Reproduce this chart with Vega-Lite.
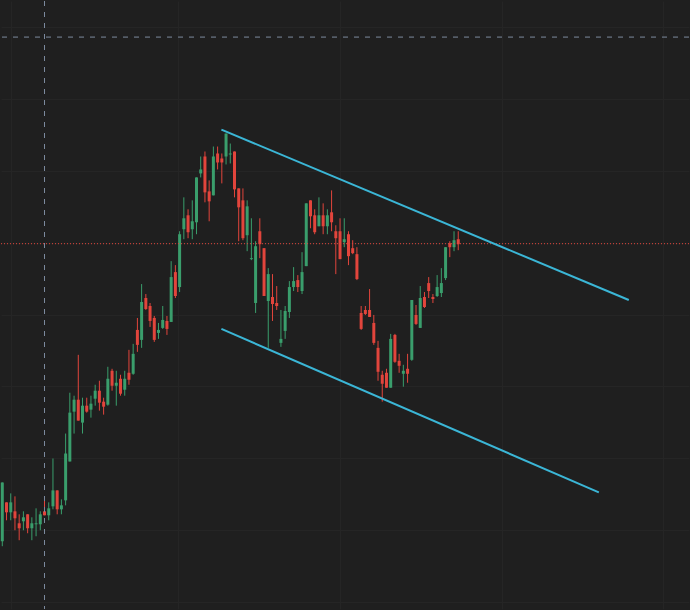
{
  "$schema": "https://vega.github.io/schema/vega-lite/v6.json",
  "width": 690,
  "height": 610,
  "padding": 0,
  "autosize": {"type": "fit", "contains": "padding"},
  "background": "#1f1f1f",
  "config": {
    "view": {"stroke": null},
    "axis": {"labels": false, "ticks": false, "domain": false, "title": null, "grid": true, "gridColor": "#252525", "gridWidth": 1}
  },
  "datasets": {
    "candles": [
      {"i":0,"o":68,"h":127,"l":63,"c":127},
      {"i":1,"o":107,"h":107,"l":89,"c":97},
      {"i":2,"o":97,"h":116,"l":89,"c":107},
      {"i":3,"o":98,"h":113,"l":79,"c":91},
      {"i":4,"o":86,"h":95,"l":69,"c":81},
      {"i":5,"o":88,"h":98,"l":79,"c":92},
      {"i":6,"o":95,"h":95,"l":76,"c":81},
      {"i":7,"o":81,"h":92,"l":69,"c":86},
      {"i":8,"o":85,"h":101,"l":73,"c":86},
      {"i":9,"o":85,"h":98,"l":79,"c":95},
      {"i":10,"o":98,"h":110,"l":94,"c":94},
      {"i":11,"o":94,"h":107,"l":89,"c":101},
      {"i":12,"o":103,"h":151,"l":100,"c":119},
      {"i":13,"o":119,"h":119,"l":95,"c":100},
      {"i":14,"o":100,"h":110,"l":95,"c":104},
      {"i":15,"o":109,"h":176,"l":104,"c":156},
      {"i":16,"o":148,"h":217,"l":148,"c":197},
      {"i":17,"o":198,"h":214,"l":176,"c":210},
      {"i":18,"o":210,"h":255,"l":189,"c":189},
      {"i":19,"o":187,"h":212,"l":176,"c":204},
      {"i":20,"o":204,"h":212,"l":197,"c":198},
      {"i":21,"o":200,"h":214,"l":192,"c":206},
      {"i":22,"o":211,"h":225,"l":204,"c":219},
      {"i":23,"o":219,"h":229,"l":199,"c":207},
      {"i":24,"o":208,"h":212,"l":195,"c":203},
      {"i":25,"o":205,"h":243,"l":204,"c":231},
      {"i":26,"o":239,"h":241,"l":219,"c":224},
      {"i":27,"o":224,"h":239,"l":204,"c":227},
      {"i":28,"o":231,"h":235,"l":214,"c":216},
      {"i":29,"o":220,"h":239,"l":214,"c":231},
      {"i":30,"o":237,"h":260,"l":225,"c":230},
      {"i":31,"o":236,"h":266,"l":235,"c":256},
      {"i":32,"o":280,"h":292,"l":258,"c":265},
      {"i":33,"o":270,"h":326,"l":262,"c":308},
      {"i":34,"o":312,"h":316,"l":300,"c":301},
      {"i":35,"o":304,"h":307,"l":283,"c":289},
      {"i":36,"o":292,"h":294,"l":268,"c":270},
      {"i":37,"o":277,"h":287,"l":271,"c":280},
      {"i":38,"o":282,"h":304,"l":281,"c":290},
      {"i":39,"o":289,"h":294,"l":275,"c":281},
      {"i":40,"o":288,"h":349,"l":288,"c":333},
      {"i":41,"o":338,"h":345,"l":312,"c":314},
      {"i":42,"o":323,"h":379,"l":318,"c":376},
      {"i":43,"o":381,"h":413,"l":371,"c":392},
      {"i":44,"o":395,"h":401,"l":372,"c":378},
      {"i":45,"o":381,"h":410,"l":371,"c":389},
      {"i":46,"o":388,"h":433,"l":376,"c":433},
      {"i":47,"o":437,"h":454,"l":433,"c":441},
      {"i":48,"o":454,"h":459,"l":408,"c":418},
      {"i":49,"o":419,"h":430,"l":389,"c":409},
      {"i":50,"o":415,"h":464,"l":415,"c":454},
      {"i":51,"o":457,"h":464,"l":441,"c":448},
      {"i":52,"o":452,"h":457,"l":427,"c":448},
      {"i":53,"o":454,"h":477,"l":446,"c":477},
      {"i":54,"o":456,"h":467,"l":447,"c":457},
      {"i":55,"o":459,"h":459,"l":413,"c":421},
      {"i":56,"o":422,"h":422,"l":369,"c":403},
      {"i":57,"o":410,"h":422,"l":370,"c":372},
      {"i":58,"o":375,"h":410,"l":359,"c":404},
      {"i":59,"o":351,"h":392,"l":350,"c":352},
      {"i":60,"o":307,"h":369,"l":297,"c":364},
      {"i":61,"o":379,"h":392,"l":352,"c":366},
      {"i":62,"o":362,"h":362,"l":314,"c":314},
      {"i":63,"o":309,"h":342,"l":262,"c":336},
      {"i":64,"o":313,"h":336,"l":289,"c":306},
      {"i":65,"o":307,"h":324,"l":300,"c":304},
      {"i":66,"o":267,"h":300,"l":263,"c":271},
      {"i":67,"o":279,"h":304,"l":271,"c":299},
      {"i":68,"o":298,"h":329,"l":292,"c":323},
      {"i":69,"o":323,"h":343,"l":319,"c":329},
      {"i":70,"o":330,"h":335,"l":318,"c":323},
      {"i":71,"o":319,"h":358,"l":316,"c":338},
      {"i":72,"o":344,"h":407,"l":344,"c":407},
      {"i":73,"o":410,"h":410,"l":382,"c":394},
      {"i":74,"o":395,"h":401,"l":376,"c":378},
      {"i":75,"o":384,"h":413,"l":384,"c":395},
      {"i":76,"o":395,"h":407,"l":376,"c":384},
      {"i":77,"o":384,"h":401,"l":376,"c":395},
      {"i":78,"o":398,"h":420,"l":379,"c":388},
      {"i":79,"o":379,"h":385,"l":336,"c":372},
      {"i":80,"o":379,"h":392,"l":351,"c":351},
      {"i":81,"o":368,"h":392,"l":363,"c":371},
      {"i":82,"o":376,"h":379,"l":345,"c":354},
      {"i":83,"o":362,"h":370,"l":356,"c":357},
      {"i":84,"o":356,"h":363,"l":330,"c":331},
      {"i":85,"o":297,"h":304,"l":280,"c":281},
      {"i":86,"o":300,"h":304,"l":295,"c":296},
      {"i":87,"o":300,"h":321,"l":293,"c":293},
      {"i":88,"o":287,"h":295,"l":265,"c":267},
      {"i":89,"o":262,"h":269,"l":229,"c":238},
      {"i":90,"o":235,"h":239,"l":208,"c":226},
      {"i":91,"o":237,"h":241,"l":222,"c":222},
      {"i":92,"o":222,"h":276,"l":222,"c":271},
      {"i":93,"o":275,"h":276,"l":247,"c":248},
      {"i":94,"o":249,"h":256,"l":237,"c":244},
      {"i":95,"o":236,"h":245,"l":223,"c":239},
      {"i":96,"o":241,"h":256,"l":227,"c":236},
      {"i":97,"o":250,"h":310,"l":249,"c":310},
      {"i":98,"o":295,"h":305,"l":285,"c":286},
      {"i":99,"o":282,"h":324,"l":282,"c":312},
      {"i":100,"o":313,"h":318,"l":302,"c":303},
      {"i":101,"o":327,"h":333,"l":312,"c":319},
      {"i":102,"o":313,"h":316,"l":307,"c":311},
      {"i":103,"o":314,"h":335,"l":313,"c":323},
      {"i":104,"o":317,"h":342,"l":313,"c":327},
      {"i":105,"o":332,"h":363,"l":330,"c":363},
      {"i":106,"o":367,"h":369,"l":353,"c":363},
      {"i":107,"o":363,"h":379,"l":359,"c":370},
      {"i":108,"o":371,"h":379,"l":360,"c":366}
    ],
    "trend": [
      {"line":"upper","i":51.9,"p":481},
      {"line":"upper","i":148.4,"p":310},
      {"line":"lower","i":51.9,"p":281},
      {"line":"lower","i":141.3,"p":117}
    ]
  },
  "layer": [
    {
      "data": {"name": "candles"},
      "mark": {"type": "rule", "strokeWidth": 1},
      "encoding": {
        "x": {"field": "i", "type": "quantitative", "scale": {"domain": [-0.307, 162.66], "nice": false, "zero": false, "padding": 0},
              "axis": {"values": [1.98, 41.62, 80.11, 118.26, 156.5]}},
        "y": {"field": "l", "type": "quantitative", "scale": {"domain": [0, 610], "nice": false, "zero": false, "padding": 0},
              "axis": {"values": [584, 547.9, 511.9, 475.8, 439.7, 403.6, 367.6, 331.5, 295.4, 259.4, 223.3, 187.2, 151.2, 115.1, 79, 42.9, 6.9]}},
        "y2": {"field": "h"},
        "color": {"condition": {"test": "datum.c >= datum.o", "value": "#3a9e6c"}, "value": "#e2453c"}
      }
    },
    {
      "data": {"name": "candles"},
      "mark": {"type": "bar", "width": 3},
      "encoding": {
        "x": {"field": "i", "type": "quantitative"},
        "y": {"field": "o", "type": "quantitative"},
        "y2": {"field": "c"},
        "color": {"condition": {"test": "datum.c >= datum.o", "value": "#3a9e6c"}, "value": "#e2453c"}
      }
    },
    {
      "data": {"values": [{"p": 366.5}]},
      "mark": {"type": "rule", "color": "#e2453c", "strokeWidth": 1, "strokeDash": [1, 2]},
      "encoding": {"y": {"field": "p", "type": "quantitative"}}
    },
    {
      "data": {"values": [{"p": 573.8}]},
      "mark": {"type": "rule", "color": "#7c8a9e", "strokeWidth": 1, "strokeDash": [5, 6]},
      "encoding": {"y": {"field": "p", "type": "quantitative"}}
    },
    {
      "data": {"values": [{"i": 10}]},
      "mark": {"type": "rule", "color": "#7c8a9e", "strokeWidth": 1, "strokeDash": [5, 6]},
      "encoding": {"x": {"field": "i", "type": "quantitative"}}
    },
    {
      "data": {"name": "trend"},
      "mark": {"type": "line", "color": "#3bb6d6", "strokeWidth": 2},
      "encoding": {
        "x": {"field": "i", "type": "quantitative"},
        "y": {"field": "p", "type": "quantitative"},
        "detail": {"field": "line"}
      }
    }
  ]
}
